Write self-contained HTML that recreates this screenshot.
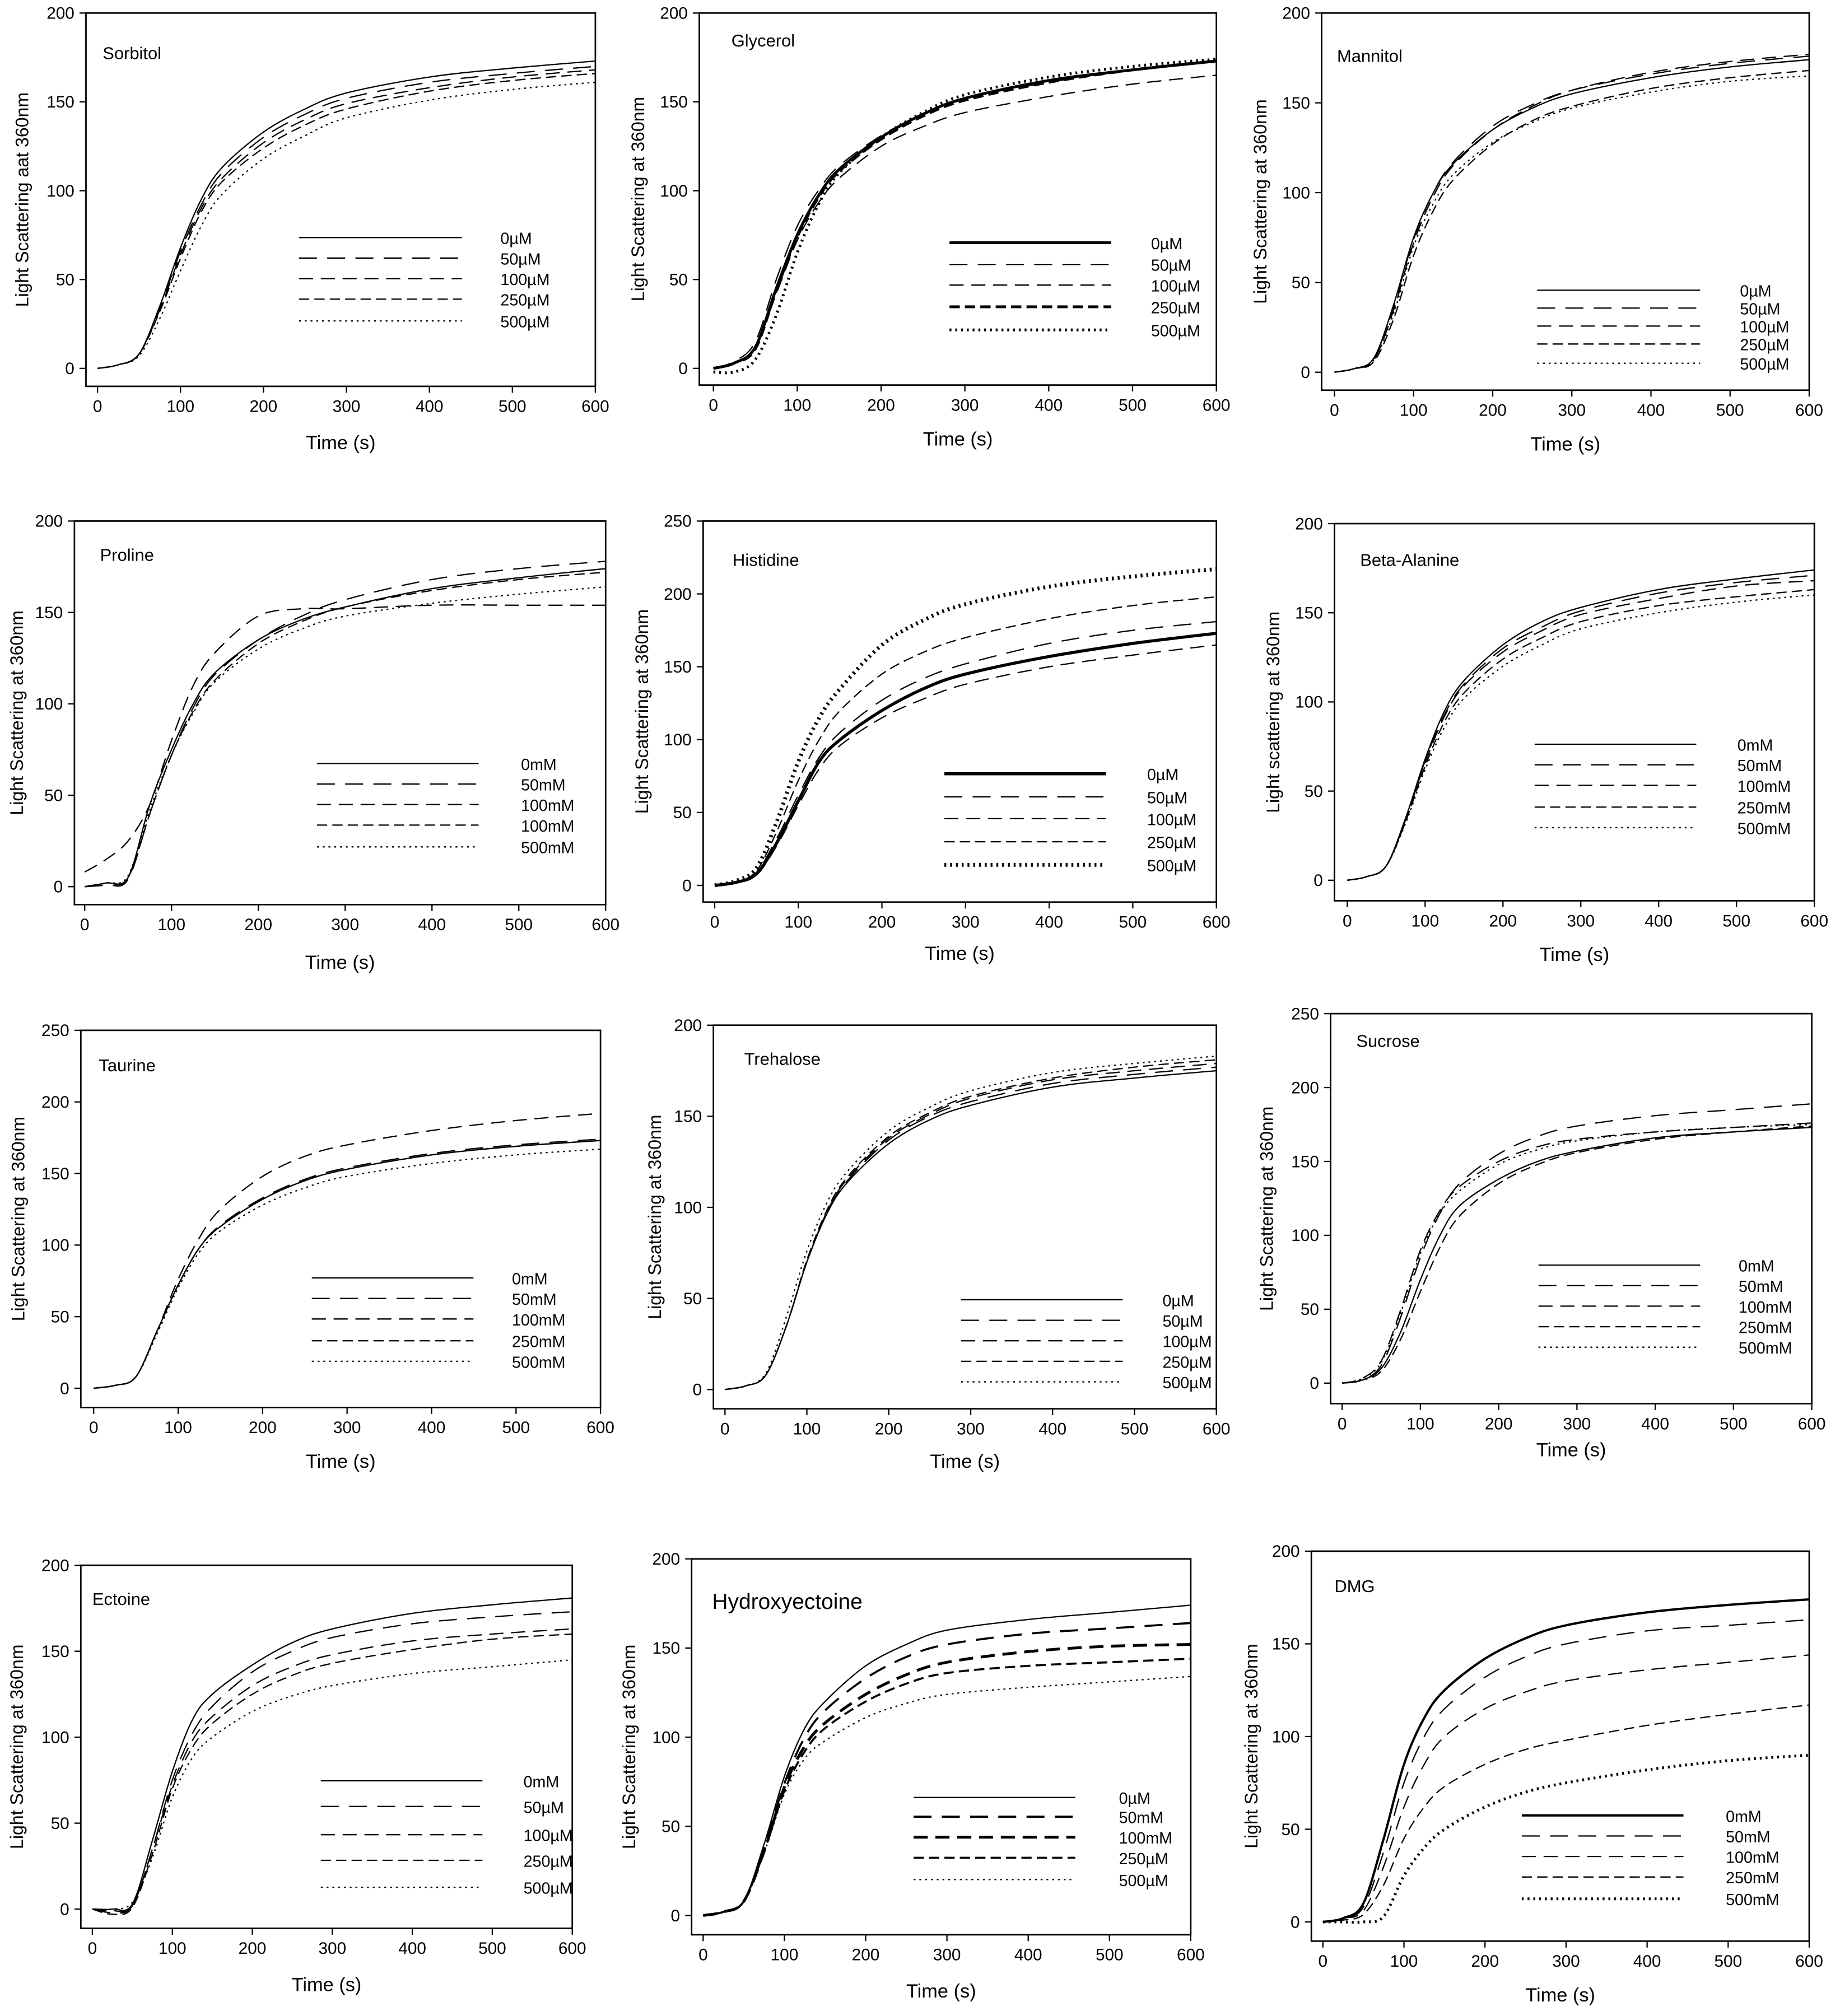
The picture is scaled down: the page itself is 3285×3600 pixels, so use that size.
<!DOCTYPE html>
<html><head><meta charset="utf-8"><style>
html,body{margin:0;padding:0;background:#fff}
svg text{font-family:"Liberation Sans",Arial,sans-serif;fill:#000}
</style></head><body>
<svg id="chart" xmlns="http://www.w3.org/2000/svg" width="3285" height="3595" viewBox="0 0 1434 1569"></svg>
<script>
const times=[0,25,50,75,100,125,150,200,250,300,400,500,600];
const xTicks=[0,100,200,300,400,500,600];
const panelNames=["Sorbitol","Glycerol","Mannitol","Proline","Histidine","Beta-Alanine","Taurine","Trehalose","Sucrose","Ectoine","Hydroxyectoine","DMG"];
const sorbitolVals=[[0,2,8,35,68,95,113,133,146,155,164,169,173],[0,2,8,34,66,92,110,130,143,152,161,166,170],[0,2,8,33,64,90,107,127,140,149,158,164,168],[0,2,8,32,62,88,105,124,137,146,156,162,166],[0,2,7,28,55,80,98,118,131,141,151,157,161]];
const glycerolVals=[[0,3,12,45,75,97,112,130,143,152,162,168,173],[0,4,15,50,80,100,114,131,143,152,161,168,173],[0,3,12,42,72,93,107,125,136,144,153,160,165],[0,3,11,44,74,96,111,129,142,151,161,168,173],[-2,-2,5,30,65,92,110,130,144,154,164,170,174]];
const mannitolVals=[[0,2,8,38,75,100,116,135,147,155,164,170,174],[0,2,8,37,74,100,117,137,149,157,166,172,176],[0,2,7,35,72,98,115,135,148,157,167,173,177],[0,2,6,30,65,90,107,127,140,148,158,164,168],[0,2,7,33,70,94,110,128,139,147,156,162,165]];
const prolineVals=[[0,2,5,45,75,100,117,135,146,153,163,169,174],[0,1,4,40,72,98,116,135,148,157,168,174,178],[8,15,25,45,80,110,128,148,152,152,154,154,154],[0,2,5,40,72,96,113,133,145,153,162,168,172],[0,2,6,42,72,95,112,130,141,148,155,160,164]];
const histidineVals=[[0,2,8,30,58,85,100,120,135,145,157,166,173],[0,2,9,33,62,88,105,127,142,152,166,175,181],[0,2,7,28,55,80,96,115,128,138,150,158,165],[0,2,10,38,72,100,120,145,160,170,183,192,198],[0,3,12,45,85,115,135,165,182,193,205,212,217]];
const betaVals=[[0,2,8,35,68,95,112,132,145,153,163,169,174],[0,2,8,34,67,93,110,130,142,151,161,167,171],[0,2,8,34,66,92,109,128,140,149,158,165,168],[0,2,8,33,64,89,105,124,136,145,154,159,163],[0,2,8,32,62,86,102,120,132,141,150,156,160]];
const taurineVals=[[0,2,8,40,72,98,113,132,145,153,163,169,173],[0,2,8,40,72,98,114,133,146,154,164,170,174],[0,2,8,40,76,105,125,148,162,170,180,187,192],[0,2,8,40,72,98,113,132,145,153,163,169,173],[0,2,8,38,70,95,110,128,140,148,157,163,167]];
const trehaloseVals=[[0,2,8,35,70,97,114,135,148,156,166,171,175],[0,2,8,35,70,98,115,137,150,158,168,173,177],[0,2,8,35,70,98,116,138,151,160,170,175,179],[0,2,8,35,71,99,117,139,152,161,171,177,181],[0,2,9,40,76,103,120,142,155,164,174,179,183]];
const sucroseVals=[[0,2,10,35,70,100,120,138,150,157,166,170,173],[0,2,12,45,85,115,135,155,167,174,181,185,189],[0,3,15,50,90,117,133,150,160,165,170,173,176],[0,2,8,30,62,92,113,135,148,156,165,170,174],[0,3,14,48,88,115,130,148,158,164,170,173,175]];
const ectoineVals=[[0,0,3,40,80,110,125,142,155,163,172,177,181],[0,-2,2,35,75,102,118,138,150,158,166,170,173],[0,-1,2,35,72,98,112,130,141,148,156,160,163],[0,-3,1,32,70,94,108,125,136,143,151,157,160],[0,0,4,30,65,88,100,115,124,130,137,141,145]];
const hydroxyVals=[[0,2,8,40,78,105,120,140,152,160,166,170,174],[0,2,8,38,74,100,115,133,145,152,158,161,164],[0,2,8,36,72,95,108,124,135,142,148,151,152],[0,2,8,36,70,92,105,120,130,136,140,142,144],[0,2,8,35,68,88,98,111,119,124,128,131,134]];
const dmgVals=[[0,2,10,45,85,110,125,142,153,160,167,171,174],[0,2,8,38,75,100,115,132,143,150,157,160,163],[0,2,6,30,62,85,100,115,124,130,136,140,144],[0,1,4,20,45,62,73,85,93,98,106,112,117],[0,0,0,3,25,40,50,62,70,75,82,87,90]];
const uM=["0µM","50µM","100µM","250µM","500µM"], mM=["0mM","50mM","100mM","250mM","500mM"];
const legendLabels=[uM,uM,uM,["0mM","50mM","100mM","100mM","500mM"],uM,mM,mM,uM,mM,["0mM","50µM","100µM","250µM","500µM"],["0µM","50mM","100mM","250µM","500µM"],mM];
const allVals=[sorbitolVals,glycerolVals,mannitolVals,prolineVals,histidineVals,betaVals,taurineVals,trehaloseVals,sucroseVals,ectoineVals,hydroxyVals,dmgVals];
const yMaxes=[200,200,200,200,250,200,250,200,250,200,200,200];
const yTitles=["Light  Scattering aat 360nm","Light Scattering at 360nm","Light Scattering at 360nm","Light Scattering at 360nm","Light Scattering at 360nm","Light scattering at 360nm","Light Scattering at 360nm","Light Scattering at 360nm","Light Scattering at 360nm","Light Scattering at 360nm","Light Scattering at 360nm","Light Scattering at 360nm"];
// layout: box [l,t,r,b], x0 px, y0 px, legend [x1,x2,labelX,rows], title pos, yTitleX, xTitleY
const L=[
 {box:[67,10,464,301],x0:76,y0:287,leg:[233,360,390,[185,201,217,233,250]],tp:[80,46],yt:22,xt:350},
 {box:[545,10,948,300],x0:556,y0:287,leg:[740,866,897,[189,206,222,239,257]],tp:[570,36],yt:502,xt:347},
 {box:[1030,10,1410,304],x0:1040,y0:290,leg:[1198,1325,1356,[226,240,254,268,283]],tp:[1042,48],yt:987,xt:351},
 {box:[58,406,472,705],x0:66,y0:691,leg:[247,373,406,[595,611,627,643,660]],tp:[78,437],yt:18,xt:755},
 {box:[548,406,948,703],x0:557,y0:690,leg:[736,862,894,[603,621,638,656,674]],tp:[571,441],yt:505,xt:748},
 {box:[1040,408,1414,702],x0:1050,y0:686,leg:[1196,1322,1354,[580,596,612,629,645]],tp:[1060,441],yt:997,xt:749},
 {box:[63,803,468,1097],x0:73,y0:1082,leg:[243,369,399,[996,1012,1028,1045,1061]],tp:[77,835],yt:19,xt:1144},
 {box:[556,799,948,1098],x0:565,y0:1083,leg:[749,875,906,[1013,1029,1045,1061,1077]],tp:[580,830],yt:515,xt:1144},
 {box:[1037,790,1412,1094],x0:1046,y0:1078,leg:[1199,1325,1355,[986,1002,1018,1034,1050]],tp:[1057,816],yt:992,xt:1135},
 {box:[63,1220,446,1503],x0:72,y0:1488,leg:[250,376,408,[1388,1408,1430,1450,1471]],tp:[72,1251],yt:18,xt:1552},
 {box:[539,1215,928,1508],x0:548,y0:1493,leg:[712,838,872,[1401,1416,1432,1448,1465]],tp:[555,1254],yt:495,xt:1557},
 {box:[1022,1209,1410,1513],x0:1031,y0:1498,leg:[1186,1312,1345,[1415,1431,1447,1463,1480]],tp:[1040,1241],yt:980,xt:1560}
];
const dashes=["","14 8","11 6","8 4","1.5 3"];
const thick={1:[2.2,1,1,2.2,2.2],4:[2.4,1,1,1,3],10:[1,1.6,2.2,1.6,1],11:[1.8,1,1,1,2.2]};
const svg=document.getElementById('chart');
const NS="http://www.w3.org/2000/svg";
function mk(t,a,p){const e=document.createElementNS(NS,t);for(const k in a)e.setAttribute(k,a[k]);(p||svg).appendChild(e);return e;}
function pathFrom(pts){let d=`M${pts[0][0]},${pts[0][1]}`;for(let i=0;i<pts.length-1;i++){const p0=pts[Math.max(0,i-1)],p1=pts[i],p2=pts[i+1],p3=pts[Math.min(pts.length-1,i+2)];
const c1=[p1[0]+(p2[0]-p0[0])/6,p1[1]+(p2[1]-p0[1])/6],c2=[p2[0]-(p3[0]-p1[0])/6,p2[1]-(p3[1]-p1[1])/6];d+=`C${c1[0].toFixed(1)},${c1[1].toFixed(1)} ${c2[0].toFixed(1)},${c2[1].toFixed(1)} ${p2[0].toFixed(1)},${p2[1].toFixed(1)}`;}return d;}
L.forEach((c,pi)=>{
 const g=mk('g',{});
 
 
 const [l,t,r,b]=c.box, ymax=yMaxes[pi], yTop=t;
 const xS=v=>c.x0+(r-c.x0)*v/600, yS=v=>c.y0-(c.y0-yTop)*v/ymax;
 const box=mk('rect',{x:l,y:t,width:r-l,height:b-t,fill:'none',stroke:'#000','stroke-width':1.2},g);
 
 xTicks.forEach(v=>{const x=xS(v);mk('line',{x1:x,x2:x,y1:b,y2:b+5,stroke:'#000'},g);
  const tx=mk('text',{x:x,y:b+20,'font-size':13,'text-anchor':'middle'},g);tx.textContent=v;
  });
 for(let v=0;v<=ymax;v+=50){const y=yS(v);mk('line',{x1:l-5,x2:l,y1:y,y2:y,stroke:'#000'},g);
  const ty=mk('text',{x:l-9,y:y+4.5,'font-size':13,'text-anchor':'end'},g);ty.textContent=v;
  }
 const yc=(t+b)/2;
 const yt=mk('text',{x:c.yt,y:yc,'font-size':14,'text-anchor':'middle',transform:`rotate(-90 ${c.yt} ${yc})`},g);yt.textContent=yTitles[pi];
 
 const xt=mk('text',{x:(l+r)/2,y:c.xt,'font-size':15,'text-anchor':'middle'},g);xt.textContent='Time (s)';
 
 const tt=mk('text',{x:c.tp[0],y:c.tp[1],'font-size':pi==10?17:13.5},g);tt.textContent=panelNames[pi];
 
 const th=thick[pi]||[1,1,1,1,1];
 allVals[pi].forEach((s,si)=>{
  const pts=s.map((v,i)=>[xS(times[i]),yS(v)]);
  const a={d:pathFrom(pts),fill:'none',stroke:'#000','stroke-width':th[si]};if(dashes[si])a['stroke-dasharray']=dashes[si];
  const p=mk('path',a,g);
  const [x1,x2,lx,rows]=c.leg;const la={x1:x1,x2:x2,y1:rows[si],y2:rows[si],stroke:'#000','stroke-width':th[si]};if(dashes[si])la['stroke-dasharray']=dashes[si];
  const ll=mk('line',la,g);
  const lt=mk('text',{x:lx,y:rows[si]+5,'font-size':12.5},g);lt.textContent=legendLabels[pi][si];
  
 });
});
</script>
</body></html>
